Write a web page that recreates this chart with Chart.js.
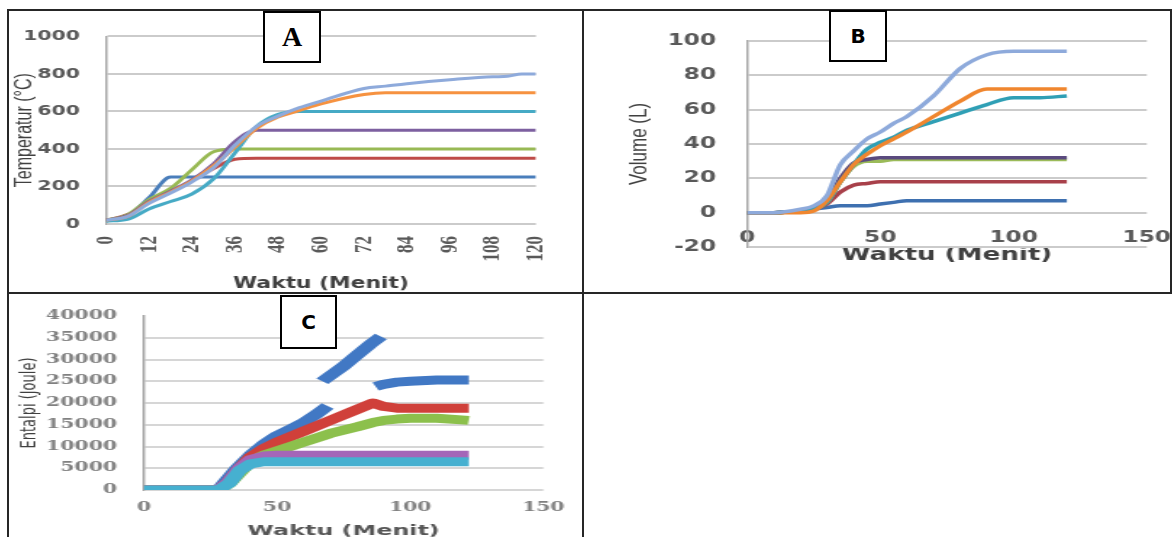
<!DOCTYPE html>
<html><head><meta charset="utf-8">
<script src="https://cdn.jsdelivr.net/npm/chart.js@4.4.1/dist/chart.umd.min.js"></script>
<style>
html,body{margin:0;padding:0;background:#fff;width:1172px;height:537px;overflow:hidden;position:relative;}
.wrap{position:absolute;transform-origin:0 0;}
.wrap canvas{display:block;}
.ln{position:absolute;background:#262626;z-index:5;}
.lab{position:absolute;border:2px solid #000;background:#fff;box-sizing:border-box;display:flex;align-items:center;justify-content:center;color:#000;z-index:6;}
</style></head><body>
<div class="wrap" style="left:8px;top:10px;transform:scaleX(1.452)"><canvas id="cA" width="396" height="283"></canvas></div>
<div class="wrap" style="left:584px;top:10px;transform:scaleX(1.4494)"><canvas id="cB" width="405" height="283"></canvas></div>
<div class="wrap" style="left:8px;top:293px;transform:scaleX(1.7012)"><canvas id="cC" width="338" height="260"></canvas></div>

<div class="ln" style="left:7px;top:9px;width:1165px;height:2px"></div>
<div class="ln" style="left:7px;top:9px;width:2px;height:528px"></div>
<div class="ln" style="left:582px;top:9px;width:2px;height:528px"></div>
<div class="ln" style="left:1170px;top:9px;width:2px;height:285px"></div>
<div class="ln" style="left:7px;top:292px;width:1165px;height:2px"></div>

<div class="lab" style="left:263px;top:11px;width:58px;height:52px;font:bold 28px 'Liberation Serif',serif">A</div>
<div class="lab" style="left:829px;top:10px;width:58px;height:52px;font:bold 20px 'DejaVu Sans',sans-serif">B</div>
<div class="lab" style="left:280px;top:295px;width:57px;height:54px;font:bold 20px 'DejaVu Sans',sans-serif">C</div>

<script>
// ---------- Panel A : Temperatur ----------
const timeA = [0,6,12,18,24,30,36,42,48,54,60,72,78,84,96,108,112,116,120];
const tempA_250 = [20,45,140,250,250,250,250,250,250,250,250,250,250,250,250,250,250,250,250];
const tempA_350 = [20,50,120,170,230,295,345,350,350,350,350,350,350,350,350,350,350,350,350];
const tempA_400 = [20,50,130,190,290,385,400,400,400,400,400,400,400,400,400,400,400,400,400];
const tempA_500 = [20,45,120,175,235,320,440,500,500,500,500,500,500,500,500,500,500,500,500];
const tempA_600 = [15,25,80,120,160,240,380,520,585,600,600,600,600,600,600,600,600,600,600];
const tempA_700 = [20,40,115,170,230,310,410,510,570,605,640,690,700,700,700,700,700,700,700];
const tempA_800 = [20,40,110,165,225,300,420,520,575,620,655,722,735,748,769,785,787,800,800];
const ticksA_x = [0,12,24,36,48,60,72,84,96,108,120];

// ---------- Panel B : Volume ----------
const timeB = [0,10,20,25,30,35,40,45,50,55,60,70,80,90,100,110,120];
const volB_1 = [0,0,1,2,3,4,4,4,5,6,7,7,7,7,7,7,7];
const volB_2 = [0,0,1,2,5,12,16,17,18,18,18,18,18,18,18,18,18];
const volB_3 = [0,0,1,2,6,18,27,30,30,31,31,31,31,31,31,31,31];
const volB_4 = [0,0,1,2,7,20,29,31,32,32,32,32,32,32,32,32,32];
const volB_5 = [0,0,1,2,6,18,28,37,41,44,48,53,58,63,67,67,68];
const volB_6 = [0,0,0,1,7,18,28,34,39,43,47,56,65,72,72,72,72];
const volB_7 = [0,0,2,4,10,28,36,43,47,52,56,68,84,92,94,94,94];

// ---------- Panel C : Entalpi ----------
const timeC = [0,28,32,36,40,45,50,60,70,80,86,90,95,100,110,122];
const entC_red    = [0,0,2000,5000,7500,9500,11000,13500,16000,18500,20000,19200,18800,18800,18800,18800];
const entC_green  = [0,0,1500,4000,6500,8000,9000,11000,13000,14500,15500,16000,16300,16500,16500,16000];
const entC_purple = [0,0,2000,5000,7000,7800,8000,8000,8000,8000,8000,8000,8000,8000,8000,8000];
const entC_cyan   = [0,0,1500,4500,6000,6500,6500,6500,6500,6500,6500,6500,6500,6500,6500,6500];
const timeC_blue1 = [0,28,30,35,40,45,50,55,60,65,69];
const entC_blue1  = [0,0,1500,5000,8000,10500,12500,14000,15500,17500,19300];
const timeC_blue2 = [67,75,80,85,89];
const entC_blue2  = [25000,28500,31000,33500,35300];
const timeC_blue3 = [87,90,95,100,110,122];
const entC_blue3  = [23800,24300,24800,25000,25300,25300];

const pts = (xs, ys) => xs.map((x, i) => ({x: x, y: ys[i]}));
const fixW = w => (s) => { s.width = w; };
const fixH = h => (s) => { s.height = h; };
const plain = (v) => String(v);

function lineDS(xs, ys, color, width, order) {
  return {data: pts(xs, ys), borderColor: color, backgroundColor: color, borderWidth: width,
    pointRadius: 0, fill: false, cubicInterpolationMode: 'monotone', order: order,
    borderCapStyle: 'butt', borderJoinStyle: 'round'};
}

const common = {
  responsive: false, animation: false, events: [],
  plugins: {legend: {display: false}, tooltip: {enabled: false}}
};

// Chart A
const seriesA = [tempA_250, tempA_350, tempA_400, tempA_500, tempA_600, tempA_700, tempA_800];
const colorsA = ['#4a7ebb','#be4b48','#98b954','#7d60a0','#46aac5','#f69240','#8eaadb'];
new Chart(document.getElementById('cA'), {
  type: 'line',
  data: {datasets: seriesA.map((s, i) => lineDS(timeA, s, colorsA[i], 3, -i))},
  options: Object.assign({}, common, {
    layout: {padding: {left: 0, top: 19, right: 15.8, bottom: 0}},
    scales: {
      x: {type: 'linear', min: 0, max: 120,
        afterBuildTicks: (s) => { s.ticks = ticksA_x.map(v => ({value: v})); },
        afterFit: fixH(69),
        grid: {display: false, drawTicks: false}, border: {display: false},
        ticks: {autoSkip: false, minRotation: 90, maxRotation: 90, padding: 12, callback: plain,
          color: '#595959', font: {family: "'Liberation Serif', serif", weight: 'bold', size: 17}},
        title: {display: true, text: 'Waktu (Menit)', color: '#404040', padding: {top: 0, bottom: 0},
          font: {family: "'DejaVu Sans', sans-serif", weight: 'bold', size: 15}}
      },
      y: {type: 'linear', min: 0, max: 1000,
        afterFit: fixW(67.5),
        grid: {color: '#cbcbcb', lineWidth: 2, drawTicks: false},
        border: {display: true, color: '#a6a6a6', width: 1.5},
        ticks: {stepSize: 200, padding: 18, color: '#595959', callback: plain,
          font: {family: "'DejaVu Sans', sans-serif", weight: 'bold', size: 14}},
        title: {display: true, text: 'Temperatur (°C)', color: '#404040', padding: {top: 2, bottom: 0},
          font: {family: "'Liberation Sans', sans-serif", size: 16}}
      }
    }
  })
});

// Chart B
const seriesB = [volB_1, volB_2, volB_3, volB_4, volB_5, volB_6, volB_7];
const colorsB = ['#3e70b0','#a8404a','#9bbb59','#5a4a7e','#2f9fb5','#f0862e','#8eaadb'];
new Chart(document.getElementById('cB'), {
  type: 'line',
  data: {datasets: seriesB.map((s, i) => lineDS(timeB, s, colorsB[i], 3.5, -i))},
  options: Object.assign({}, common, {
    layout: {padding: {left: 0, top: 25, right: 16.6, bottom: 0}},
    scales: {
      x: {type: 'linear', min: 0, max: 150,
        afterFit: fixH(46),
        grid: {display: false, drawTicks: false}, border: {display: false},
        ticks: {stepSize: 50, mirror: true, padding: 0, maxRotation: 0, color: '#595959', callback: plain,
          font: {family: "'DejaVu Sans', sans-serif", weight: 'bold', size: 16}},
        title: {display: true, text: 'Waktu (Menit)', color: '#404040', padding: {top: 0, bottom: 27.2},
          font: {family: "'DejaVu Sans', sans-serif", weight: 'bold', size: 18}}
      },
      y: {type: 'linear', min: -20, max: 100,
        afterFit: fixW(112.5),
        grid: {color: '#cbcbcb', lineWidth: 2, drawTicks: false},
        border: {display: true, color: '#a6a6a6', width: 1.5},
        ticks: {stepSize: 20, padding: 21.4, color: '#595959', callback: plain,
          font: {family: "'DejaVu Sans', sans-serif", weight: 'bold', size: 16}},
        title: {display: true, text: 'Volume (L)', color: '#404040', padding: {top: 28.4, bottom: 0},
          font: {family: "'Liberation Sans', sans-serif", size: 17}}
      }
    }
  })
});

// Chart C
const dsC = [
  lineDS(timeC_blue1, entC_blue1, '#4178c4', 9, 0),
  lineDS(timeC_blue2, entC_blue2, '#4178c4', 9, 0),
  lineDS(timeC_blue3, entC_blue3, '#4178c4', 9, 0),
  lineDS(timeC, entC_red, '#d0403a', 9, -1),
  lineDS(timeC, entC_green, '#8cc04c', 9, -2),
  lineDS(timeC, entC_purple, '#a466b8', 9, -3),
  lineDS(timeC, entC_cyan, '#46b0d0', 9, -4)
];
dsC.forEach(d => { d.cubicInterpolationMode = 'default'; d.tension = 0; });
new Chart(document.getElementById('cC'), {
  type: 'line',
  data: {datasets: dsC},
  options: Object.assign({}, common, {
    layout: {padding: {left: 0, top: 20, right: 21.2, bottom: 0}},
    scales: {
      x: {type: 'linear', min: 0, max: 150,
        afterFit: fixH(63),
        grid: {display: false, drawTicks: false}, border: {display: false},
        ticks: {stepSize: 50, padding: 10.8, maxRotation: 0, color: '#808080', callback: plain,
          font: {family: "'DejaVu Serif', serif", weight: 'bold', size: 12}},
        title: {display: true, text: 'Waktu (Menit)', color: '#555555', padding: {top: 0, bottom: 13.6},
          font: {family: "'DejaVu Sans', sans-serif", weight: 'bold', size: 14}}
      },
      y: {type: 'linear', min: 0, max: 40000,
        afterFit: fixW(79.9),
        grid: {color: (c) => (c.tick && c.tick.value === 40000) ? 'rgba(0,0,0,0)' : '#d6d6d6', lineWidth: 2, drawTicks: false},
        border: {display: true, color: '#a6a6a6', width: 1.5},
        ticks: {stepSize: 5000, padding: 15.8, color: '#808080', callback: plain,
          font: {family: "'DejaVu Serif', serif", weight: 'bold', size: 12}},
        title: {display: true, text: 'Entalpi (Joule)', color: '#404040', padding: {top: 5.1, bottom: 0},
          font: {family: "'DejaVu Sans', sans-serif", size: 13}}
      }
    }
  })
});
</script>
</body></html>
